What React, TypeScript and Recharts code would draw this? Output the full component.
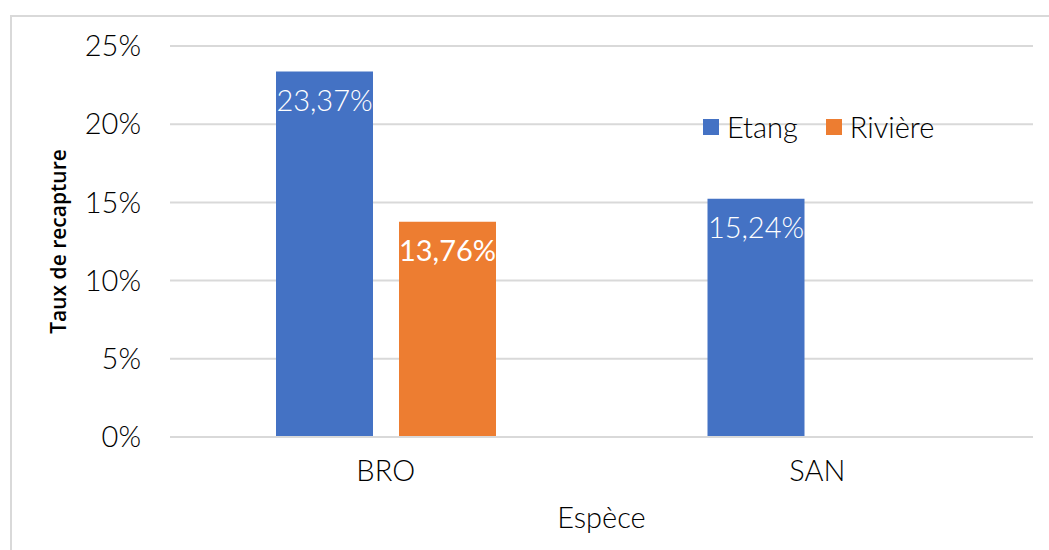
import React from 'react';
import { BarChart, Bar, XAxis, YAxis, CartesianGrid, Legend, LabelList } from 'recharts';

const species = ['BRO', 'SAN'];
const etang = [23.37, 15.24];
const riviere = [13.76, null];
const yTicks = [0, 5, 10, 15, 20, 25];

const data = species.map((s, i) => ({ espece: s, Etang: etang[i], Riviere: riviere[i] }));

const FONT = 'Lato, "Open Sans", sans-serif';
const BLUE = '#4472C4';
const ORANGE = '#ED7D31';
const FS = 29;

const fmtLabel = (v: any) => (v == null ? '' : `${Number(v).toFixed(2).replace('.', ',')}%`);

const LegendBox = () => (
  <div style={{ display: 'flex', alignItems: 'center', fontFamily: FONT, fontWeight: 300, fontSize: FS, color: '#000' }}>
    <span style={{ width: 16, height: 16, background: BLUE, display: 'inline-block', marginRight: 8 }} />
    <span style={{ marginRight: 28 }}>Etang</span>
    <span style={{ width: 16, height: 16, background: ORANGE, display: 'inline-block', marginRight: 8 }} />
    <span>Rivière</span>
  </div>
);

const App: React.FC = () => {
  return (
    <div style={{ position: 'absolute', left: 0, top: 0, width: 1049, height: 550, background: '#fff', overflow: 'hidden' }}>
      <div style={{ position: 'absolute', left: 10, top: 15, width: 1060, height: 560, border: '2px solid #d9d9d9' }} />
      <BarChart
        width={1049}
        height={550}
        data={data}
        margin={{ top: 46, right: 16, left: 0, bottom: 0 }}
        barSize={97}
        barGap={26}
        style={{ position: 'absolute', left: 0, top: 0 }}
      >
        <CartesianGrid vertical={false} stroke="#d9d9d9" strokeWidth={2} />
        <XAxis
          dataKey="espece"
          height={113}
          axisLine={{ stroke: '#d9d9d9', strokeWidth: 2 }}
          tickLine={false}
          tickSize={0}
          tickMargin={23}
          tick={{ fill: '#000', fontSize: FS, fontFamily: FONT, fontWeight: 300 }}
          label={{ value: 'Espèce', position: 'insideBottom', offset: 22, fill: '#000', fontSize: FS, fontFamily: FONT, fontWeight: 300 }}
        />
        <YAxis
          width={170}
          domain={[0, 25]}
          ticks={yTicks}
          axisLine={false}
          tickLine={false}
          tickSize={0}
          tickMargin={29}
          tickFormatter={(v: number) => `${v}%`}
          tick={{ fill: '#000', fontSize: FS, fontFamily: FONT, fontWeight: 300 }}
          label={{ value: 'Taux de recapture', angle: -90, position: 'insideLeft', offset: 59, fill: '#000', fontSize: 21, fontFamily: '"Open Sans", sans-serif', fontWeight: 600, style: { textAnchor: 'middle' } }}
        />
        <Legend
          layout="horizontal"
          verticalAlign="middle"
          align="center"
          content={<LegendBox />}
          wrapperStyle={{ position: 'absolute', left: 703, top: 109, width: 'auto' }}
        />
        <Bar dataKey="Etang" name="Etang" fill={BLUE} isAnimationActive={false}>
          <LabelList dataKey="Etang" position="insideTop" offset={19} formatter={fmtLabel} fill="#fff" fontSize={FS} fontFamily={FONT} fontWeight={300} />
        </Bar>
        <Bar dataKey="Riviere" name="Rivière" fill={ORANGE} isAnimationActive={false}>
          <LabelList dataKey="Riviere" position="insideTop" offset={19} formatter={fmtLabel} fill="#fff" fontSize={FS} fontFamily={FONT} fontWeight={400} />
        </Bar>
      </BarChart>
    </div>
  );
};

export default App;
